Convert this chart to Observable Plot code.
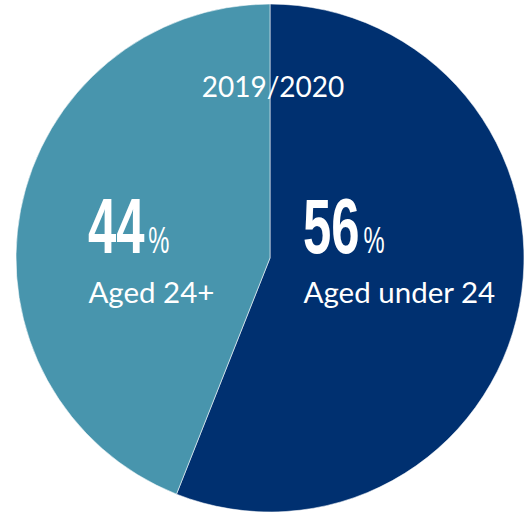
<!DOCTYPE html>
<html>
<head>
<meta charset="utf-8">
<script src="https://cdn.jsdelivr.net/npm/d3@7"></script>
<script src="https://cdn.jsdelivr.net/npm/@observablehq/plot@0.6"></script>
<style>
  html, body { margin: 0; padding: 0; background: #fff; }
  #chart svg { display: block; }
</style>
</head>
<body>
<div id="chart"></div>
<script>
// ---- data ----
const groups = ["Aged under 24", "Aged 24+"];
const shares = [56, 44];
const periodLabel = "2019/2020";

const palette = ["#003070", "#4895ad"];
const data = groups.map((g, i) => ({group: g, share: shares[i]}));

// label anchors (pie units, radius = 1)
const labelX = {"Aged under 24": 0.13, "Aged 24+": -0.717};
const numberBaseline = 0.02;   // y in pie units
const textBaseline = -0.177;

const colorOf = d3.scaleOrdinal(groups, palette);

function pieMark(index, scales) {
  const {x, y} = scales;
  const cx = x(0), cy = y(0), r = x(1) - x(0);
  const arcs = d3.pie().sort(null).value(d => d.share)(data);
  const arc = d3.arc().innerRadius(0).outerRadius(r);
  const g = d3.create("svg:g").attr("transform", `translate(${cx},${cy})`);
  g.selectAll("path").data(arcs).join("path")
    .attr("d", arc)
    .attr("fill", d => colorOf(d.data.group))
    .attr("stroke", "#ffffff")
    .attr("stroke-opacity", 0.55)
    .attr("stroke-width", 1);
  return g.node();
}

function numberMark(index, scales) {
  const {x, y} = scales;
  const g = d3.create("svg:g").attr("text-anchor", "start");
  data.forEach(d => {
    const t = g.append("text")
      .attr("text-anchor", "start")
      .attr("transform", `translate(${x(labelX[d.group])},${y(numberBaseline)}) scale(0.66,1)`)
      .attr("fill", "white")
      .attr("font-family", "Liberation Sans, Arial, sans-serif");
    t.append("tspan").attr("font-size", 77).attr("font-weight", "bold").text(d.share);
    t.append("tspan").attr("font-size", 36).attr("dx", 6).text("%");
  });
  return g.node();
}

const chart = Plot.plot({
  width: 525,
  height: 516,
  margin: 0,
  x: {domain: [-270 / 254, 255 / 254], axis: null},
  y: {domain: [-258 / 254, 258 / 254], axis: null},
  style: {background: "white"},
  marks: [
    pieMark,
    numberMark,
    Plot.text([periodLabel], {
      x: () => 0.01, y: () => 0.634, text: d => d,
      textAnchor: "middle", lineAnchor: "bottom",
      fill: "white", fontSize: 28, fontFamily: "Lato, sans-serif"
    }),
    Plot.text(data, {
      x: d => labelX[d.group], y: () => textBaseline, text: "group",
      textAnchor: "start", lineAnchor: "bottom",
      fill: "white", fontSize: 29.5, fontFamily: "Lato, sans-serif"
    })
  ]
});
document.getElementById("chart").appendChild(chart);
</script>
</body>
</html>
